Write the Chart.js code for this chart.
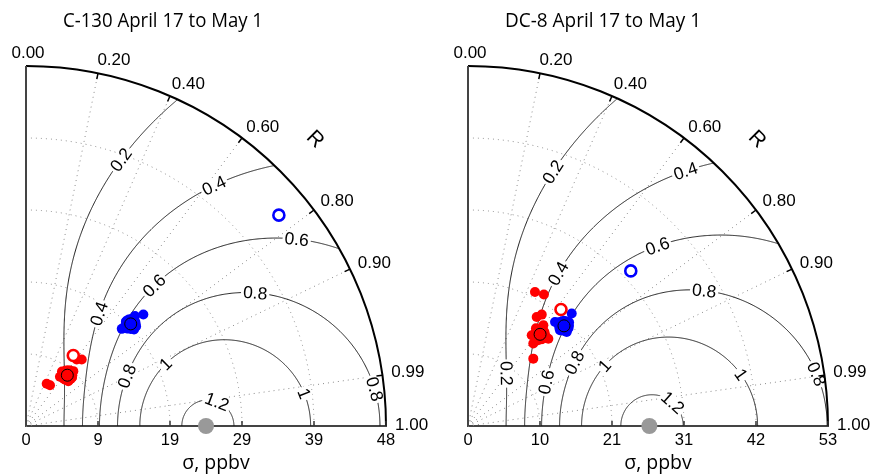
<!DOCTYPE html>
<html>
<head>
<meta charset="utf-8">
<script src="https://cdn.jsdelivr.net/npm/chart.js@4.4.0/dist/chart.umd.min.js"></script>
<style>
  body { margin: 0; background: #fff; }
  #wrap { position: relative; width: 879px; height: 475px; }
  canvas { position: absolute; top: 0; }
</style>
</head>
<body>
<div id="wrap">
  <canvas id="c130" width="440" height="475" style="left:0"></canvas>
  <canvas id="dc8" width="439" height="475" style="left:440px"></canvas>
</div>
<script>
// correlation axis (outer arc)
const rTickValues = [0, 0.2, 0.4, 0.6, 0.8, 0.9, 0.99, 1.0];
const rTickLabels = ['0.00', '0.20', '0.40', '0.60', '0.80', '0.90', '0.99', '1.00'];
const rGridValues = [0.2, 0.4, 0.6, 0.8, 0.9, 0.99];
// skill score contour levels
const skillLevels = [0.2, 0.4, 0.6, 0.8, 1, 1.2];

// ---- C-130 panel ----
const c130SigmaMax = 48;
const c130SigmaTickLabels = ['0', '9', '19', '29', '39', '48'];
const c130RefSigma = 24.0;
const c130R0 = 0.901;
const c130RedDotsSigma = [11.57, 11.15, 6.31, 6.27, 7.97, 9.66, 8.21, 8.71, 8.91, 8.09, 9.45];
const c130RedDotsR = [0.642, 0.606, 0.507, 0.44, 0.568, 0.653, 0.687, 0.551, 0.688, 0.643, 0.621];
const c130BlueDotsSigma = [21.58, 18.19, 20.63, 19.28, 19.78, 19.94, 18.72, 19.31];
const c130BlueDotsR = [0.725, 0.702, 0.704, 0.691, 0.742, 0.702, 0.719, 0.746];
const c130MeanSigma = [8.73, 19.5];   // red, blue
const c130MeanR = [0.631, 0.716];
const c130OpenSigma = [11.32, 43.9];  // red, blue
const c130OpenR = [0.557, 0.768];

// ---- DC-8 panel ----
const dc8SigmaMax = 53;
const dc8SigmaTickLabels = ['0', '10', '21', '31', '42', '53'];
const dc8RefSigma = 26.7;
const dc8R0 = 0.897;
const dc8RedDotsSigma = [22.06, 22.35, 19.67, 18.97, 13.81, 15.48, 17.47, 16.32, 18.52, 17.52, 17.76, 16.3];
const dc8RedDotsR = [0.447, 0.5, 0.552, 0.533, 0.696, 0.621, 0.677, 0.575, 0.599, 0.571, 0.63, 0.632];
const dc8BlueDotsSigma = [22.52, 19.96, 20.07, 20.31, 21.31, 19.54, 20.58];
const dc8BlueDotsR = [0.678, 0.642, 0.724, 0.66, 0.698, 0.693, 0.715];
const dc8MeanSigma = [17.17, 20.42];
const dc8MeanR = [0.618, 0.692];
const dc8OpenSigma = [21.94, 33.1];
const dc8OpenR = [0.624, 0.724];

// where the contour labels sit along each curve (level, sigma)
const c130ContourLabels = [[0.2, 37.7], [0.4, 40.7], [0.4, 17.85], [0.6, 43.86], [0.6, 25.35],
  [0.8, 35.34], [0.8, 15.0], [0.8, 46.75], [1, 20.38], [1, 37.35], [1.2, 25.68]];
const dc8ContourLabels = [[0.2, 39.45], [0.2, 9.59], [0.4, 49.35], [0.4, 26.08], [0.6, 38.46], [0.6, 13.22],
  [0.8, 40.08], [0.8, 18.24], [0.8, 51.9], [1, 21.96], [1, 40.9], [1.2, 30.34]];

const RED = '#ff0000', BLUE = '#0000ff';
const numFont = '"Liberation Sans", Arial, sans-serif';
const titleFont = '"Open Sans", Lato, sans-serif';

function toPoints(sigmas, rs) {
  return sigmas.map((s, i) => ({ x: s * rs[i], y: s * Math.sqrt(1 - rs[i] * rs[i]) }));
}

// Taylor (2001) skill score solved for R at a normalized sigma
function skillR(S, sHat, c) {
  const k = sHat + 1 / sHat;
  return Math.pow(S * c * k * k / 4, 0.25) - 1;
}

// draw text at a given size, squeezed sideways to a given width (narrow title face)
function squeezedText(ctx, text, x, y, size, width, align) {
  ctx.font = size + 'px ' + titleFont;
  const w = ctx.measureText(text).width;
  const sx = Math.min(1, width / w);
  ctx.save();
  ctx.translate(x, y);
  ctx.scale(sx, 1);
  ctx.textAlign = align;
  ctx.fillText(text, 0, 0);
  ctx.restore();
}

function makeTaylorPlugin(panel) {
  return {
    id: 'taylor_' + panel.id,
    beforeDatasetsDraw(chart) {
      const { ctx } = chart;
      const xs = chart.scales.x, ys = chart.scales.y;
      const ox = xs.getPixelForValue(0), oy = ys.getPixelForValue(0);
      const rad = xs.getPixelForValue(panel.sigmaMax) - ox;
      const unit = panel.sigmaMax / rad;
      const P = (s, r) => [xs.getPixelForValue(s * r), ys.getPixelForValue(s * Math.sqrt(Math.max(0, 1 - r * r)))];
      const c = Math.pow(1 + panel.r0, 4);
      const tickVals = panel.tickLabels.map((_, i) => panel.sigmaMax * i / 5);

      ctx.save();
      // dotted grid
      ctx.strokeStyle = '#8a8a8a';
      ctx.lineWidth = 1;
      ctx.setLineDash([1, 4]);
      rGridValues.forEach(r => {
        const q = P(panel.sigmaMax, r);
        ctx.beginPath(); ctx.moveTo(ox, oy); ctx.lineTo(q[0], q[1]); ctx.stroke();
      });
      tickVals.slice(1, -1).forEach(s => {
        ctx.beginPath(); ctx.arc(ox, oy, xs.getPixelForValue(s) - ox, -Math.PI / 2, 0); ctx.stroke();
      });
      ctx.setLineDash([]);

      // skill contours
      ctx.strokeStyle = '#1a1a1a';
      ctx.lineWidth = 1;
      skillLevels.forEach(S => {
        const k = 8 / Math.sqrt(S * c);
        const d = Math.sqrt(k * k - 4);
        const a = (k - d) / 2, b = Math.min((k + d) / 2, panel.sigmaMax / panel.refSigma);
        ctx.beginPath();
        for (let i = 0; i <= 500; i++) {
          const h = a + (b - a) * (1 - Math.cos(Math.PI * i / 500)) / 2;
          const q = P(h * panel.refSigma, Math.min(1, skillR(S, h, c)));
          if (i) ctx.lineTo(q[0], q[1]); else ctx.moveTo(q[0], q[1]);
        }
        ctx.stroke();
      });

      // contour labels
      ctx.font = '17.5px ' + numFont;
      ctx.textAlign = 'center';
      ctx.textBaseline = 'middle';
      panel.contourLabels.forEach(([S, s]) => {
        const ref = panel.refSigma;
        const q = P(s, Math.min(1, skillR(S, s / ref, c)));
        const q1 = P(s - 0.3, Math.min(1, skillR(S, (s - 0.3) / ref, c)));
        const q2 = P(s + 0.3, Math.min(1, skillR(S, (s + 0.3) / ref, c)));
        let ang = Math.atan2(q2[1] - q1[1], q2[0] - q1[0]);
        if (ang > Math.PI / 2) ang -= Math.PI;
        if (ang < -Math.PI / 2) ang += Math.PI;
        const txt = String(S);
        const w = ctx.measureText(txt).width;
        ctx.save();
        ctx.translate(q[0], q[1]);
        ctx.rotate(ang);
        ctx.fillStyle = '#fff';
        ctx.fillRect(-w / 2 - 2, -7, w + 4, 14);
        ctx.fillStyle = '#000';
        ctx.fillText(txt, 0, 1);
        ctx.restore();
      });

      // outer arc and left axis
      ctx.strokeStyle = '#000';
      ctx.lineWidth = 2;
      ctx.beginPath(); ctx.arc(ox, oy, rad, -Math.PI / 2, 0); ctx.stroke();
      ctx.strokeStyle = '#444';
      ctx.beginPath(); ctx.moveTo(ox, oy); ctx.lineTo(ox, oy - rad); ctx.stroke();

      // inward ticks on arc
      ctx.strokeStyle = '#000';
      ctx.lineWidth = 1.5;
      rTickValues.forEach(r => {
        if (r <= 0 || r >= 1) return;
        const q1 = P(panel.sigmaMax, r), q2 = P(panel.sigmaMax - 6 * unit, r);
        ctx.beginPath(); ctx.moveTo(q1[0], q1[1]); ctx.lineTo(q2[0], q2[1]); ctx.stroke();
      });
      // upward ticks on sigma axis
      ctx.strokeStyle = '#333';
      tickVals.slice(1).forEach(s => {
        const px = xs.getPixelForValue(s);
        ctx.beginPath(); ctx.moveTo(px, oy); ctx.lineTo(px, oy - 5); ctx.stroke();
      });

      // correlation labels
      ctx.fillStyle = '#000';
      ctx.font = '17px ' + numFont;
      ctx.textBaseline = 'middle';
      rTickValues.forEach((r, i) => {
        const q = P(panel.sigmaMax + 12 * unit, r);
        ctx.textAlign = r === 0 ? 'center' : 'left';
        ctx.fillText(rTickLabels[i], q[0] + (r === 0 ? 2 : -3), q[1] - 1);
      });
      // "R"
      const qR = P(panel.sigmaMax + 47 * unit, 0.71);
      ctx.save();
      ctx.translate(qR[0], qR[1]);
      ctx.rotate(Math.PI / 4);
      ctx.font = '21px ' + numFont;
      ctx.textAlign = 'center';
      ctx.fillText('R', 0, 0);
      ctx.restore();

      // axis title and panel title
      ctx.textBaseline = 'alphabetic';
      squeezedText(ctx, '\u03c3, ppbv', ox + rad / 2 + 10, 469, 19.5, 71, 'center');
      squeezedText(ctx, panel.title, ox + 37, 27, 19.5, panel.titleWidth, 'left');
      ctx.restore();
    }
  };
}

function makePanel(panel) {
  const tickVals = panel.tickLabels.map((_, i) => panel.sigmaMax * i / 5);
  const pt = { clip: false };
  return new Chart(document.getElementById(panel.id), {
    type: 'scatter',
    data: {
      datasets: [
        Object.assign({ data: toPoints(panel.meanSigma, panel.meanR), pointRadius: 6, backgroundColor: 'rgba(0,0,0,0)',
          borderColor: '#000', borderWidth: 1 }, pt),
        Object.assign({ data: toPoints(panel.meanSigma, panel.meanR), pointRadius: 10,
          backgroundColor: [RED, BLUE], borderWidth: 0 }, pt),
        Object.assign({ data: toPoints(panel.openSigma, panel.openR), pointRadius: 5.5, backgroundColor: '#fff',
          borderColor: [RED, BLUE], borderWidth: 2.6 }, pt),
        Object.assign({ data: toPoints(panel.redSigma, panel.redR), pointRadius: 5, backgroundColor: RED, borderWidth: 0 }, pt),
        Object.assign({ data: toPoints(panel.blueSigma, panel.blueR), pointRadius: 5, backgroundColor: BLUE, borderWidth: 0 }, pt),
        Object.assign({ data: [{ x: panel.refSigma, y: 0 }], pointRadius: 8, backgroundColor: '#999', borderWidth: 0 }, pt)
      ]
    },
    options: {
      responsive: false,
      animation: false,
      layout: { padding: { left: panel.padLeft, top: 66, right: panel.padRight, bottom: 0 } },
      plugins: { legend: { display: false }, tooltip: { enabled: false } },
      scales: {
        x: {
          type: 'linear', min: 0, max: panel.sigmaMax,
          afterBuildTicks: s => { s.ticks = tickVals.map(v => ({ value: v })); },
          afterFit: s => { s.height = 49; },
          grid: { display: false, drawTicks: false },
          border: { display: true, color: '#444', width: 2 },
          ticks: {
            padding: 5, color: '#000', autoSkip: false, maxRotation: 0,
            font: { family: numFont, size: 16.5 },
            callback: (v, i) => panel.tickLabels[i]
          }
        },
        y: { type: 'linear', min: 0, max: panel.sigmaMax, display: false }
      }
    },
    plugins: [makeTaylorPlugin(panel)]
  });
}

makePanel({
  id: 'c130', title: 'C-130 April 17 to May 1', titleWidth: 200, sigmaMax: c130SigmaMax, tickLabels: c130SigmaTickLabels,
  refSigma: c130RefSigma, r0: c130R0, contourLabels: c130ContourLabels, padLeft: 26, padRight: 54,
  redSigma: c130RedDotsSigma, redR: c130RedDotsR, blueSigma: c130BlueDotsSigma, blueR: c130BlueDotsR,
  meanSigma: c130MeanSigma, meanR: c130MeanR, openSigma: c130OpenSigma, openR: c130OpenR
});
makePanel({
  id: 'dc8', title: 'DC-8 April 17 to May 1', titleWidth: 196, sigmaMax: dc8SigmaMax, tickLabels: dc8SigmaTickLabels,
  refSigma: dc8RefSigma, r0: dc8R0, contourLabels: dc8ContourLabels, padLeft: 28, padRight: 51,
  redSigma: dc8RedDotsSigma, redR: dc8RedDotsR, blueSigma: dc8BlueDotsSigma, blueR: dc8BlueDotsR,
  meanSigma: dc8MeanSigma, meanR: dc8MeanR, openSigma: dc8OpenSigma, openR: dc8OpenR
});
</script>
</body>
</html>
